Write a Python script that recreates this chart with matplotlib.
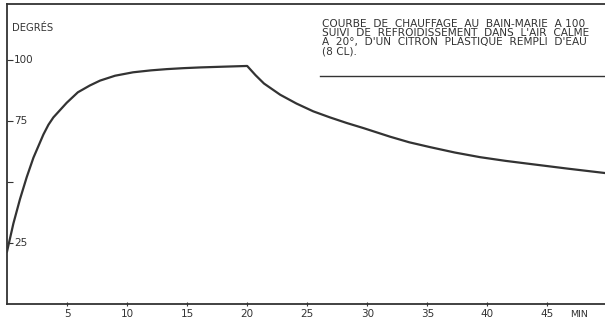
import matplotlib
matplotlib.use("Agg")
import matplotlib.pyplot as plt

# courbe (minutes, degres)
minutes = [0, 0.53, 1.08, 1.64, 2.2, 3.03, 3.45, 3.86, 4.97, 5.9, 6.9,
           7.75, 9.0, 10.5, 12.0, 13.3, 14.7, 16.1, 18.0, 20,
           20.7, 21.4, 22.75, 24.1, 25.5, 26.9, 28.3, 29.7, 31.9,
           33.5, 35.25, 37.3, 39.4, 41.5, 43.6, 46.7, 49.8]
degres = [21.5, 33, 43, 52, 60, 69.5, 73.5, 76.5, 82.5, 86.8, 89.6,
          91.6, 93.6, 95.0, 95.8, 96.3, 96.7, 97.0, 97.3, 97.6,
          93.8, 90.4, 85.8, 82.2, 79, 76.5, 74.2, 72.1, 68.6,
          66.3, 64.3, 62.1, 60.2, 58.7, 57.4, 55.5, 53.7]

xticks = [5, 10, 15, 20, 25, 30, 35, 40, 45]
yticks = [25, 50, 75, 100]
ylabels = ["25", "", "75", "100"]

title_lines = ["COURBE  DE  CHAUFFAGE  AU  BAIN-MARIE  A 100",
               "SUIVI  DE  REFROIDISSEMENT  DANS  L'AIR  CALME",
               "A  20°,  D'UN  CITRON  PLASTIQUE  REMPLI  D'EAU",
               "(8 CL)."]

ink = "#333333"

fig = plt.figure(figsize=(6.05, 3.23), dpi=100)
ax = fig.add_axes([0.0116, 0.0588, 0.9884, 0.9288])

ax.plot(minutes, degres, color=ink, lw=1.6, solid_joinstyle="round")

ax.set_xlim(0, 49.8)
ax.set_ylim(0, 123)

for side in ["left", "bottom", "top"]:
    ax.spines[side].set_color(ink)
    ax.spines[side].set_linewidth(1.3)
ax.spines["right"].set_visible(False)

ax.set_xticks(xticks)
ax.set_xticklabels([str(v) for v in xticks])
ax.tick_params(axis="x", direction="inout", length=3, width=0.8,
               color=ink, labelsize=7.5, labelcolor=ink, pad=2)

ax.set_yticks(yticks)
ax.set_yticklabels([])
ax.tick_params(axis="y", direction="in", length=4, width=0.8, color=ink)
for v, lab in zip(yticks, ylabels):
    ax.text(0.6, v, lab, fontsize=7.5, color=ink, va="center", ha="left")

ax.text(0.4, 113, "DEGRÉS", fontsize=7.2, color=ink, va="center", ha="left")
ax.text(46.9, -4.5, "MIN", fontsize=6.8, color=ink, va="center", ha="left",
        clip_on=False)

for i, line in enumerate(title_lines):
    ax.text(26.2, 114.8 - i * 3.7, line, fontsize=7.6, color=ink,
            va="center", ha="left")
ax.plot([26.1, 49.8], [93.5, 93.5], color=ink, lw=1.0)

fig.savefig("out.png", dpi=100)
